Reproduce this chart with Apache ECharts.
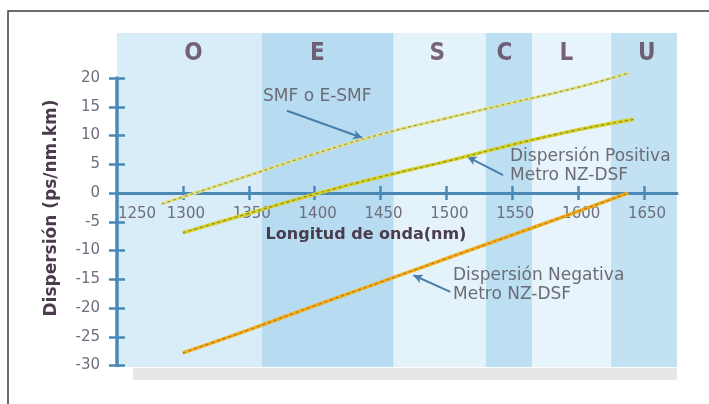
<!DOCTYPE html>
<html>
<head>
<meta charset="utf-8">
<script src="https://cdn.jsdelivr.net/npm/echarts@6/dist/echarts.min.js"></script>
<style>html,body{margin:0;padding:0;background:#fff;}#c{width:709px;height:404px;}</style>
</head>
<body>
<div id="c"></div>
<script>
// ---- data ----
var xTicks = [1250, 1300, 1350, 1400, 1450, 1500, 1550, 1600, 1650];
var bandNames = ['O', 'E', 'S', 'C', 'L', 'U'];
var bandStart = [1250, 1360, 1460, 1530, 1565, 1625];
var bandEnd   = [1360, 1460, 1530, 1565, 1625, 1675];
var bandLetterX = [1308, 1402, 1493, 1544, 1591, 1652];

var smfX = [1284, 1300, 1350, 1400, 1450, 1500, 1550, 1600, 1639];
var smfY = [-1.9, -0.7, 3.05, 6.8, 10.2, 13.0, 15.7, 18.4, 20.9];
var posX = [1300, 1350, 1400, 1450, 1500, 1550, 1600, 1642];
var posY = [-6.9, -3.55, -0.2, 2.8, 5.5, 8.4, 11.0, 12.8];
var negX = [1300, 1350, 1400, 1450, 1500, 1550, 1600, 1638];
var negY = [-27.8, -23.8, -19.6, -15.5, -11.4, -7.3, -3.2, 0.0];

var labelSMF = 'SMF o E-SMF';
var labelPos = ['Dispersión Positiva', 'Metro NZ-DSF'];
var labelNeg = ['Dispersión Negativa', 'Metro NZ-DSF'];
var xName = 'Longitud de onda(nm)';
var yName = 'Dispersión (ps/nm.km)';

// annotation arrows (data coords: from -> to)
var arrowFrom = [[1379, 14.3], [1543, 3.1], [1503, -17.2]];
var arrowTo   = [[1436, 9.6], [1516, 6.3], [1475, -14.3]];

// ---- styles ----
var bandColors = ['#d9edf8', '#b7dcf1', '#e4f3fa', '#bcdff2', '#e7f4fb', '#c2e2f3'];
var axisColor = '#4a89b6';
var tickText = '#6e6e7c';
var darkText = '#4a3c4c';
var annoText = '#6c6c76';
var condensed = '"DejaVu Sans Condensed", "Liberation Sans Narrow", "DejaVu Sans", sans-serif';
var zeroOffset = -172.5;

function zip(a, b) { return a.map(function (v, i) { return [v, b[i]]; }); }

var chart = echarts.init(document.getElementById('c'), null, { renderer: 'canvas' });

var bandAreas = bandStart.map(function (s, i) {
  return [{ xAxis: s, itemStyle: { color: bandColors[i] } }, { xAxis: bandEnd[i] }];
});

var letterData = bandLetterX.map(function (x, i) { return { value: [x, 0.937], name: bandNames[i] }; });

function texturedLine(name, data, base, dash, w) {
  return [
    { name: name, type: 'line', xAxisIndex: 0, yAxisIndex: 0, data: data, smooth: true, clip: false,
      showSymbol: false, symbol: 'none', lineStyle: { color: base, width: w }, z: 6, animation: false },
    { name: name + '-t', type: 'line', xAxisIndex: 0, yAxisIndex: 0, data: data, smooth: true, clip: false,
      showSymbol: false, symbol: 'none', lineStyle: { color: dash, width: 1.2, type: [3, 3] }, z: 7, animation: false }
  ];
}

var series = [
  { type: 'line', xAxisIndex: 2, yAxisIndex: 2, data: [], silent: true, z: 0, zlevel: 0,
    markArea: { silent: true, data: bandAreas } },
  { type: 'scatter', xAxisIndex: 2, yAxisIndex: 2, data: letterData, symbolSize: 0, z: 1, silent: true,
    label: { show: true, position: 'inside', formatter: '{b}', color: '#5a3f55',
      fontFamily: condensed, fontWeight: 'bold', fontSize: 24 } },
  { type: 'line', xAxisIndex: 0, yAxisIndex: 0, data: [], silent: true, z: 8,
    markLine: { silent: true, symbol: ['none', 'arrow'], symbolSize: [7, 9], animation: false,
      lineStyle: { color: '#4a7fab', width: 2, type: 'solid' }, label: { show: false },
      data: arrowFrom.map(function (f, i) { return [{ coord: f }, { coord: arrowTo[i] }]; }) } }
];
series = series.concat(texturedLine('SMF', zip(smfX, smfY), '#e3e27c', '#9c9868', 3));
series = series.concat(texturedLine('Pos', zip(posX, posY), '#d6d22a', '#8c8a30', 3.6));
series = series.concat(texturedLine('Neg', zip(negX, negY), '#f1ae1e', '#b57a14', 3.6));

var option = {
  backgroundColor: '#ffffff',
  animation: false,
  grid: [
    { left: 117, right: 32, top: 78, bottom: 38.5, z: 5 },
    { left: 117, right: 32, top: 78, bottom: 38.5, z: 5 },
    { left: 117, right: 32, top: 33, bottom: 37, z: 0 }
  ],
  xAxis: [
    { type: 'value', gridIndex: 0, min: 1250, max: 1675, interval: 50, position: 'bottom', offset: zeroOffset, z: 5,
      axisLine: { onZero: false, lineStyle: { color: axisColor, width: 3 } },
      axisTick: { show: true, length: 7, customValues: xTicks.slice(1), lineStyle: { color: axisColor, width: 2.5 } },
      axisLabel: { customValues: xTicks, color: tickText, fontSize: 15, margin: 14, fontFamily: '"DejaVu Sans", sans-serif',
        formatter: function (v) { return v === xTicks[0] ? '{first|' + v + '}' : '{n|' + v + '}'; },
        rich: {
          first: { color: tickText, fontSize: 15, fontFamily: '"DejaVu Sans", sans-serif', padding: [0, 0, 0, 40] },
          n: { color: tickText, fontSize: 15, fontFamily: '"DejaVu Sans", sans-serif', padding: [0, 0, 0, 6] }
        } },
      splitLine: { show: false } },
    { type: 'value', gridIndex: 1, min: 1250, max: 1675, interval: 50, position: 'bottom', offset: zeroOffset, z: 5,
      axisLine: { show: false, onZero: false },
      axisTick: { show: true, inside: true, length: 7, customValues: xTicks.slice(1), lineStyle: { color: axisColor, width: 2.5 } },
      axisLabel: { show: false }, splitLine: { show: false } },
    { type: 'value', gridIndex: 2, min: 1250, max: 1675, show: false }
  ],
  yAxis: [
    { type: 'value', gridIndex: 0, min: -30, max: 20, interval: 5, position: 'left', z: 5,
      axisLine: { show: true, onZero: false, lineStyle: { color: axisColor, width: 3.5 } },
      axisTick: { show: true, length: 8, lineStyle: { color: axisColor, width: 2.5 } },
      axisLabel: { color: tickText, fontSize: 15, margin: 17, fontFamily: '"DejaVu Sans", sans-serif',
        showMinLabel: true, showMaxLabel: true },
      splitLine: { show: false } },
    { type: 'value', gridIndex: 1, min: -30, max: 20, interval: 5, position: 'left', z: 5,
      axisLine: { show: false, onZero: false },
      axisTick: { show: true, inside: true, length: 8, lineStyle: { color: axisColor, width: 2.5 } },
      axisLabel: { show: false }, splitLine: { show: false } },
    { type: 'value', gridIndex: 2, min: 0, max: 1, show: false }
  ],
  series: series,
  graphic: [
    { type: 'rect', shape: { x: 133, y: 368, width: 544, height: 12 }, silent: true, z: 20,
      style: { fill: 'rgba(170,176,182,0.3)' } },
    { type: 'polyline', shape: { points: [[8, 404], [8, 11], [709, 11]] }, silent: true, z: 20,
      style: { stroke: '#3c3c3c', lineWidth: 1.5, fill: null } },
    { type: 'text', x: 52, y: 208, rotation: Math.PI / 2, silent: true, z: 20,
      style: { text: yName, font: 'bold 17px "DejaVu Sans", sans-serif', fill: darkText, align: 'center', verticalAlign: 'middle' } },
    { type: 'text', x: 366, y: 235, silent: true, z: 20,
      style: { text: xName, font: 'bold 16px "DejaVu Sans", sans-serif', fill: darkText, align: 'center', verticalAlign: 'middle' } },
    { type: 'text', x: 263, y: 97, silent: true, z: 20,
      style: { text: labelSMF, font: '17px "DejaVu Sans", sans-serif', fill: annoText, align: 'left', verticalAlign: 'middle' } },
    { type: 'text', x: 510, y: 166, silent: true, z: 20,
      style: { text: labelPos.join('\n'), font: '17px "DejaVu Sans", sans-serif', lineHeight: 19, fill: annoText, align: 'left', verticalAlign: 'middle' } },
    { type: 'text', x: 453, y: 285, silent: true, z: 20,
      style: { text: labelNeg.join('\n'), font: '17px "DejaVu Sans", sans-serif', lineHeight: 19, fill: annoText, align: 'left', verticalAlign: 'middle' } }
  ]
};
chart.setOption(option);
</script>
</body>
</html>
